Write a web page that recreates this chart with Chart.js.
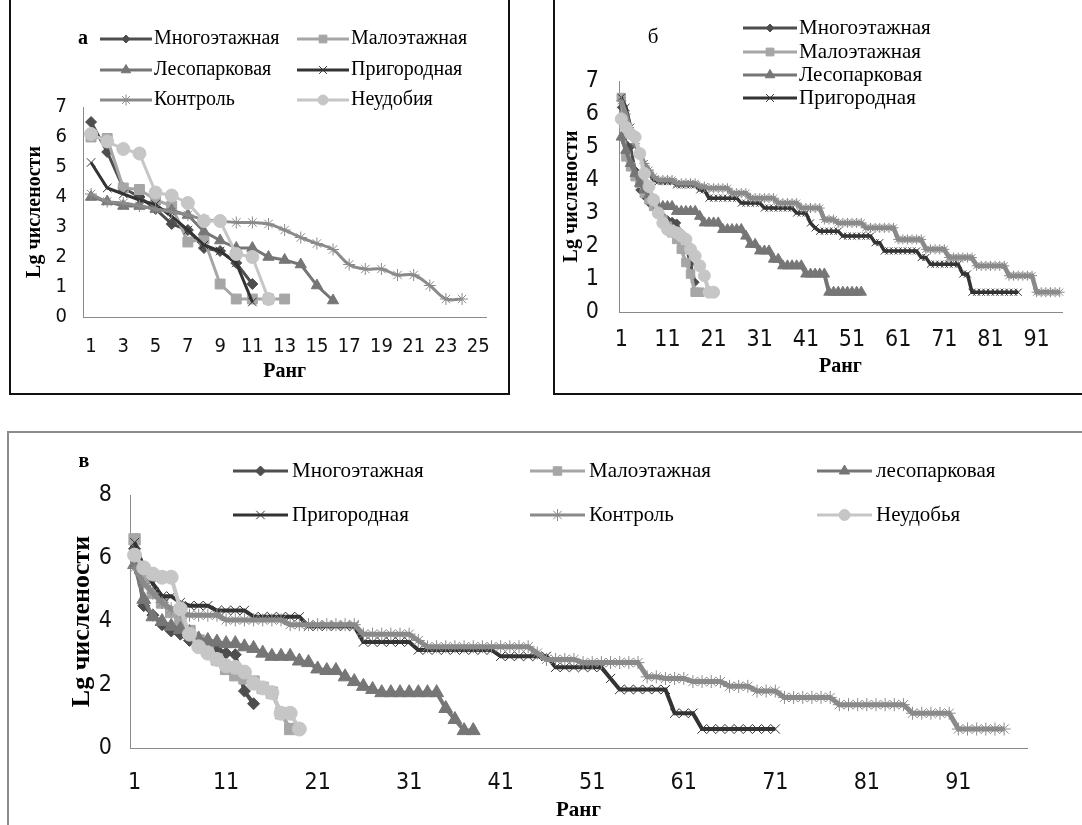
<!DOCTYPE html>
<html>
<head>
<meta charset="utf-8">
<script src="https://cdn.jsdelivr.net/npm/chart.js@4.4.1/dist/chart.umd.min.js"></script>
<style>
  html, body { margin: 0; padding: 0; background: #fff; }
  body { width: 1082px; height: 825px; position: relative; overflow: hidden; }
  .frame, canvas { position: absolute; }
</style>
</head>
<body>
<div class="frame" style="left:9px;top:-4px;width:497px;height:397px;border:2px solid #111;border-top:none;"></div>
<div class="frame" style="left:553px;top:-4px;width:540px;height:397px;border-left:2px solid #111;border-bottom:2px solid #111;"></div>
<div class="frame" style="left:7px;top:431px;width:1090px;height:410px;border-left:2px solid #8c8c8c;border-top:2px solid #8c8c8c;"></div>
<canvas id="chartA" width="496" height="393" style="left:12px;top:0"></canvas>
<canvas id="chartB" width="527" height="393" style="left:555px;top:0"></canvas>
<canvas id="chartC" width="1072" height="391" style="left:10px;top:434px"></canvas>
<script>
// Ранговые распределения (Lg численности) по зонам

const namesAB = ['Многоэтажная', 'Малоэтажная', 'Лесопарковая', 'Пригородная', 'Контроль', 'Неудобия'];
const namesC = ['Многоэтажная', 'Малоэтажная', 'лесопарковая', 'Пригородная', 'Контроль', 'Неудобья'];

// ранги (категории оси X)
const ranksA = Array.from({ length: 25 }, (_, i) => String(i + 1));
const ranksB = Array.from({ length: 96 }, (_, i) => String(i + 1));
const ranksC = Array.from({ length: 98 }, (_, i) => String(i + 1));

// --- панель а ---
const aMnogo = [6.5, 5.5, 4.3, 4.0, 3.6, 3.1, 2.9, 2.3, 2.2, 1.8, 1.1];
const aMalo = [6.0, 5.95, 4.3, 4.25, 3.9, 3.7, 2.5, 2.6, 1.1, 0.6, 0.6, 0.6, 0.6];
const aLes = [4.0, 3.85, 3.7, 3.7, 3.6, 3.55, 3.4, 2.85, 2.55, 2.3, 2.3, 2.0, 1.9, 1.75, 1.05, 0.55];
const aPrigor = [5.15, 4.3, 4.1, 3.9, 3.75, 3.35, 2.9, 2.4, 2.2, 1.8, 0.5];
const aKontrol = [4.1, 3.85, 3.8, 3.7, 3.6, 3.5, 3.4, 3.25, 3.2, 3.15, 3.15, 3.1, 2.9, 2.65, 2.45, 2.25,
  1.75, 1.6, 1.6, 1.4, 1.4, 1.05, 0.6, 0.6];
const aNeud = [6.1, 5.85, 5.6, 5.45, 4.15, 4.05, 3.8, 3.2, 3.2, 2.1, 2.0, 0.6];

// --- панель б ---
const bMnogo = [6.2, 5.1, 5.0, 4.3, 3.7, 3.5, 3.3, 3.2, 3.0, 2.9, 2.8, 2.75, 2.7, 2.4, 2.0, 1.45, 0.9];
const bMalo = [6.5, 4.7, 4.4, 4.1, 3.9, 3.6, 3.4, 3.2, 3.0, 2.8, 2.6, 2.4, 2.2, 1.9, 1.5, 1.15, 0.6, 0.6];
const bLes = [5.3, 4.9, 4.5, 4.2, 3.9, 3.7, 3.55, 3.4,
  3.2, 3.2, 3.2, 3.2, 3.05, 3.05, 3.05, 3.05, 3.05, 2.9,
  2.7, 2.7, 2.7, 2.7, 2.5, 2.5, 2.5, 2.5, 2.5, 2.3,
  2.05, 2.05, 1.85, 1.85, 1.85, 1.6, 1.6,
  1.4, 1.4, 1.4, 1.4, 1.4, 1.15, 1.15, 1.15, 1.15, 1.15,
  0.6, 0.6, 0.6, 0.6, 0.6, 0.6, 0.6, 0.6];
const bPrigor = [6.5, 6.2, 5.6, 5.1, 4.8, 4.5, 4.2, 4.0,
  3.95, 3.95, 3.95, 3.95, 3.85, 3.85, 3.85, 3.85, 3.85, 3.7, 3.7,
  3.45, 3.45, 3.45, 3.45, 3.45, 3.45, 3.45, 3.3, 3.3, 3.3, 3.3, 3.3,
  3.15, 3.15, 3.15, 3.15, 3.15, 3.15, 3.15, 3.0, 3.0, 3.0, 2.7, 2.55,
  2.45, 2.45, 2.45, 2.45, 2.45, 2.3, 2.3, 2.3, 2.3, 2.3, 2.3, 2.3,
  2.1, 2.1, 1.85, 1.85, 1.85, 1.85, 1.85, 1.85, 1.85, 1.85, 1.65, 1.65,
  1.45, 1.45, 1.45, 1.45, 1.45, 1.45, 1.45, 1.15, 1.15,
  0.6, 0.6, 0.6, 0.6, 0.6, 0.6, 0.6, 0.6, 0.6, 0.6, 0.6];
const bKontrol = [6.4, 6.0, 5.5, 5.1, 4.8, 4.5, 4.3, 4.1,
  4.0, 4.0, 4.0, 4.0, 3.9, 3.9, 3.9, 3.9, 3.9, 3.8, 3.8,
  3.75, 3.75, 3.75, 3.75, 3.75, 3.6, 3.6, 3.6, 3.6,
  3.45, 3.45, 3.45, 3.45, 3.45, 3.45, 3.3, 3.3, 3.3, 3.3, 3.3,
  3.15, 3.15, 3.15, 3.15, 3.15, 2.8, 2.8, 2.8, 2.7, 2.7, 2.7, 2.7, 2.7, 2.7,
  2.55, 2.55, 2.55, 2.55, 2.55, 2.55, 2.55, 2.2, 2.2, 2.2, 2.2, 2.2, 2.2,
  1.9, 1.9, 1.9, 1.9, 1.9, 1.65, 1.65, 1.65, 1.65, 1.65, 1.65,
  1.4, 1.4, 1.4, 1.4, 1.4, 1.4, 1.4, 1.1, 1.1, 1.1, 1.1, 1.1, 1.1,
  0.6, 0.6, 0.6, 0.6, 0.6, 0.6];
const bNeud = [5.85, 5.6, 5.4, 5.3, 4.8, 4.2, 3.8, 3.4, 3.0, 2.7, 2.5, 2.45, 2.4, 2.3, 2.2, 1.9, 1.7, 1.4, 1.1, 0.6, 0.6];

// --- панель в ---
const cMnogo = [6.3, 4.5, 4.2, 3.9, 3.7, 3.6, 3.4, 3.3, 3.2, 3.1, 3.0, 2.95, 1.8, 1.4];
const cMalo = [6.6, 5.3, 4.9, 4.6, 4.3, 4.0, 3.7, 3.4, 3.1, 2.8, 2.5, 2.3, 2.2, 2.1, 1.9, 1.75, 1.1, 0.6];
const cLes = [5.8, 4.7, 4.15, 4.0, 3.85, 3.75, 3.65, 3.45, 3.4, 3.35, 3.3, 3.3, 3.2, 3.15, 3.0,
  2.9, 2.9, 2.9, 2.75, 2.7, 2.5, 2.45, 2.45, 2.25, 2.1, 1.95, 1.85,
  1.75, 1.75, 1.75, 1.75, 1.75, 1.75, 1.75, 1.25, 0.9, 0.55, 0.55];
const cPrigor = [6.5, 5.7, 5.2, 4.8, 4.8, 4.6, 4.5, 4.5, 4.5,
  4.35, 4.35, 4.35, 4.35, 4.15, 4.15, 4.15, 4.15, 4.15, 4.15,
  3.85, 3.85, 3.85, 3.85, 3.85, 3.85, 3.35, 3.35, 3.35, 3.35, 3.35, 3.35,
  3.1, 3.1, 3.1, 3.1, 3.1, 3.1, 3.1, 3.1, 3.1,
  2.9, 2.9, 2.9, 2.9, 2.9, 2.9, 2.55, 2.55, 2.55, 2.55, 2.55, 2.55, 2.2,
  1.85, 1.85, 1.85, 1.85, 1.85, 1.85, 1.1, 1.1, 1.1,
  0.6, 0.6, 0.6, 0.6, 0.6, 0.6, 0.6, 0.6, 0.6];
const cKontrol = [5.7, 5.2, 4.9, 4.6, 4.4, 4.3, 4.2, 4.2, 4.2, 4.2,
  4.05, 4.05, 4.05, 4.05, 4.05, 4.05, 4.05, 3.9, 3.9, 3.9, 3.9, 3.9, 3.9, 3.9, 3.9,
  3.6, 3.6, 3.6, 3.6, 3.6, 3.6, 3.4,
  3.2, 3.2, 3.2, 3.2, 3.2, 3.2, 3.2, 3.2, 3.2, 3.2, 3.2, 3.2, 3.0,
  2.8, 2.8, 2.8, 2.8, 2.7, 2.7, 2.7, 2.7, 2.7, 2.7, 2.7,
  2.25, 2.25, 2.2, 2.2, 2.2, 2.1, 2.1, 2.1, 2.1, 1.95, 1.95, 1.95, 1.8, 1.8, 1.8,
  1.6, 1.6, 1.6, 1.6, 1.6, 1.6, 1.37, 1.37, 1.37, 1.37, 1.37, 1.37, 1.37, 1.37,
  1.1, 1.1, 1.1, 1.1, 1.1, 0.6, 0.6, 0.6, 0.6, 0.6, 0.6];
const cNeud = [6.1, 5.7, 5.5, 5.4, 5.4, 4.4, 3.6, 3.2, 3.0, 2.8, 2.6, 2.55, 2.4, 2.05, 1.9, 1.75, 1.1, 1.1, 0.6];

const lineColors = ['#4e4e4e', '#a6a6a6', '#767676', '#333333', '#8a8a8a', '#c6c6c6'];
const markers = ['rectRot', 'rect', 'triangle', 'crossRot', 'star', 'circle'];

const tickFamily = '"Liberation Sans Narrow", "DejaVu Sans Condensed", "Open Sans", sans-serif';
const serif = '"Liberation Serif", "DejaVu Serif", serif';

// легенды и буквы панелей (координаты внутри canvas)
const legends = {
  chartA: {
    font: '20px ' + serif, len: 52, gap: 2, radius: [4, 5.5, 5.5, 5.5, 5.5, 5],
    items: [[0, 88, 39], [1, 285, 39], [2, 88, 70], [3, 285, 70], [4, 88, 100], [5, 285, 100]],
    letter: ['а', 71, 39, 'bold 20px ' + serif]
  },
  chartB: {
    font: '21px ' + serif, len: 54, gap: 2, radius: [4, 5.5, 5.5, 5.5],
    items: [[0, 188, 28], [1, 188, 52], [2, 188, 75], [3, 188, 98]],
    letter: ['б', 98, 37, '21px ' + serif]
  },
  chartC: {
    font: '21px ' + serif, len: 55, gap: 4, radius: [5, 6, 6, 6, 6, 5.5],
    items: [[0, 223, 37], [1, 520, 37], [2, 807, 37], [3, 223, 81], [4, 520, 81], [5, 807, 81]],
    letter: ['в', 74, 28, 'bold 20px ' + serif]
  }
};

const panelLegend = {
  id: 'panelLegend',
  afterDraw(chart) {
    const L = legends[chart.canvas.id];
    const ctx = chart.ctx;
    ctx.save();
    L.items.forEach(([i, x, y]) => {
      const ds = chart.data.datasets[i];
      ctx.strokeStyle = ds.borderColor;
      ctx.lineWidth = 3;
      ctx.beginPath();
      ctx.moveTo(x, y);
      ctx.lineTo(x + L.len, y);
      ctx.stroke();
      ctx.fillStyle = ds.pointBackgroundColor;
      ctx.strokeStyle = ds.pointBorderColor;
      ctx.lineWidth = 1;
      Chart.helpers.drawPoint(ctx, { pointStyle: ds.pointStyle, radius: L.radius[i], borderWidth: 1, rotation: 0 }, x + L.len / 2, y);
      ctx.fillStyle = '#000';
      ctx.font = L.font;
      ctx.textBaseline = 'middle';
      ctx.textAlign = 'left';
      ctx.fillText(ds.label, x + L.len + L.gap, y);
    });
    const [t, lx, ly, f] = L.letter;
    ctx.font = f;
    ctx.fillStyle = '#000';
    ctx.textAlign = 'center';
    ctx.textBaseline = 'middle';
    ctx.fillText(t, lx, ly);
    ctx.restore();
  }
};

function makeDatasets(names, values, p) {
  return values.map((v, i) => ({
    label: names[i],
    data: v,
    borderColor: lineColors[i],
    backgroundColor: lineColors[i],
    pointBackgroundColor: lineColors[i],
    pointBorderColor: lineColors[i],
    pointStyle: markers[i],
    pointRadius: p.radius[i],
    pointBorderWidth: 1,
    borderWidth: p.lineWidth[i],
    tension: p.tension ? p.tension[i] : 0,
    order: values.length - i,
    clip: false
  }));
}

function makeChart(id, labels, names, values, p) {
  return new Chart(document.getElementById(id), {
    type: 'line',
    data: { labels: labels, datasets: makeDatasets(names, values, p) },
    options: {
      responsive: false,
      animation: false,
      events: [],
      layout: { padding: p.padding },
      plugins: { legend: { display: false }, tooltip: { enabled: false } },
      scales: {
        x: {
          type: 'category',
          offset: true,
          grid: { display: false, drawTicks: false },
          border: { color: '#8a8a8a', width: 1 },
          ticks: {
            autoSkip: false, maxRotation: 0, padding: p.xTickPad, color: '#111',
            font: { family: tickFamily, size: p.tickSize },
            callback: (v, i) => (i % p.every === 0 ? labels[i] : null)
          },
          title: {
            display: true, text: 'Ранг', color: '#000',
            font: { family: serif, size: p.xTitleSize, weight: 'bold' },
            padding: { top: 0, bottom: p.xTitlePad }
          },
          afterFit: s => { s.height = p.xHeight; }
        },
        y: {
          min: 0, max: p.yMax,
          grid: { display: false, drawTicks: false },
          border: { color: '#8a8a8a', width: 1 },
          ticks: {
            stepSize: p.yStep, padding: p.yTickPad, color: '#111',
            font: { family: tickFamily, size: p.tickSize }
          },
          title: {
            display: true, text: 'Lg числености', color: '#000',
            font: { family: serif, size: p.yTitleSize, weight: 'bold' },
            padding: { top: p.yTitlePad, bottom: 0 }
          },
          afterFit: s => { s.width = p.yWidth; }
        }
      }
    },
    plugins: [panelLegend]
  });
}

makeChart('chartA', ranksA, namesAB, [aMnogo, aMalo, aLes, aPrigor, aKontrol, aNeud], {
  padding: { top: 107, right: 18, left: 0, bottom: 0 },
  yWidth: 71, xHeight: 76, yMax: 7, yStep: 1, every: 2,
  tickSize: 20, xTickPad: 18, yTickPad: 16,
  xTitleSize: 20, xTitlePad: 9, yTitleSize: 20, yTitlePad: 11,
  radius: [5.5, 7, 6.5, 6, 6, 6.5],
  lineWidth: [3, 3, 3, 3, 3, 3],
  tension: [0, 0, 0, 0, 0.4, 0]
});

makeChart('chartB', ranksB, namesAB, [bMnogo, bMalo, bLes, bPrigor, bKontrol, bNeud], {
  padding: { top: 81, right: 20, left: 0, bottom: 0 },
  yWidth: 64, xHeight: 81, yMax: 7, yStep: 1, every: 10,
  tickSize: 23, xTickPad: 14, yTickPad: 20,
  xTitleSize: 20, xTitlePad: 14, yTitleSize: 20, yTitlePad: 5,
  radius: [4, 6, 6, 5, 5, 6],
  lineWidth: [3, 3.5, 4, 3.5, 4.5, 4]
});

makeChart('chartC', ranksC, namesC, [cMnogo, cMalo, cLes, cPrigor, cKontrol, cNeud], {
  padding: { top: 61, right: 55, left: 50, bottom: 0 },
  yWidth: 70, xHeight: 77, yMax: 8, yStep: 2, every: 10,
  tickSize: 23, xTickPad: 21, yTickPad: 18,
  xTitleSize: 21, xTitlePad: 2, yTitleSize: 26, yTitlePad: 7,
  radius: [6, 8, 8, 6.5, 6.5, 7],
  lineWidth: [4, 4, 4, 4, 5, 4]
});
</script>
</body>
</html>
